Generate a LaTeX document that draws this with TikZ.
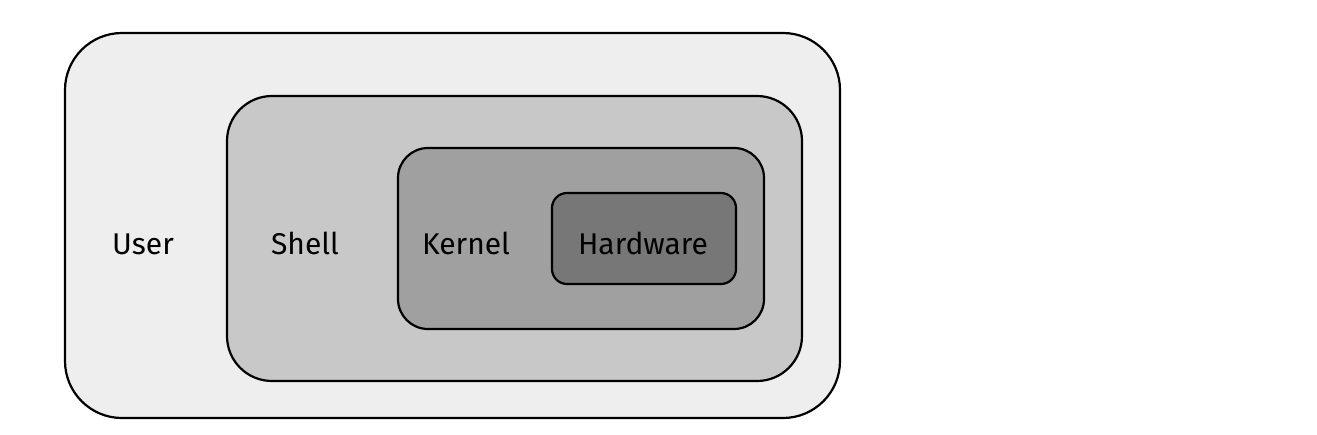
\documentclass[tikz,border=0pt]{standalone}
\usepackage{fontspec}
\setmainfont{Fira Sans}
\definecolor{cUser}{HTML}{EEEEEE}
\definecolor{cShell}{HTML}{C8C8C8}
\definecolor{cKernel}{HTML}{A0A0A0}
\definecolor{cHw}{HTML}{777777}
\begin{document}
\begin{tikzpicture}[x=1pt,y=-1pt,
  layer/.style={draw=black,line width=2.2pt},
  lbl/.style={font=\fontsize{30}{36}\selectfont,text=black,inner sep=0pt,anchor=base}]
\useasboundingbox (0,0) rectangle (1317,434);
\fill[white] (0,0) rectangle (1317,434);
\draw[layer,fill=cUser,rounded corners=57pt] (65,33) rectangle (840,418);
\draw[layer,fill=cShell,rounded corners=45pt] (227,96) rectangle (802,381);
\draw[layer,fill=cKernel,rounded corners=30pt] (398,148) rectangle (764,329);
\draw[layer,fill=cHw,rounded corners=15pt] (552,193) rectangle (736,284);
\node[lbl] (user) at (143,254) {User};
\node[lbl] (shell) at (305,254) {Shell};
\node[lbl] (kernel) at (466,254) {Kernel};
\node[lbl] (hw) at (643,254) {Hardware};
\end{tikzpicture}
\end{document}
